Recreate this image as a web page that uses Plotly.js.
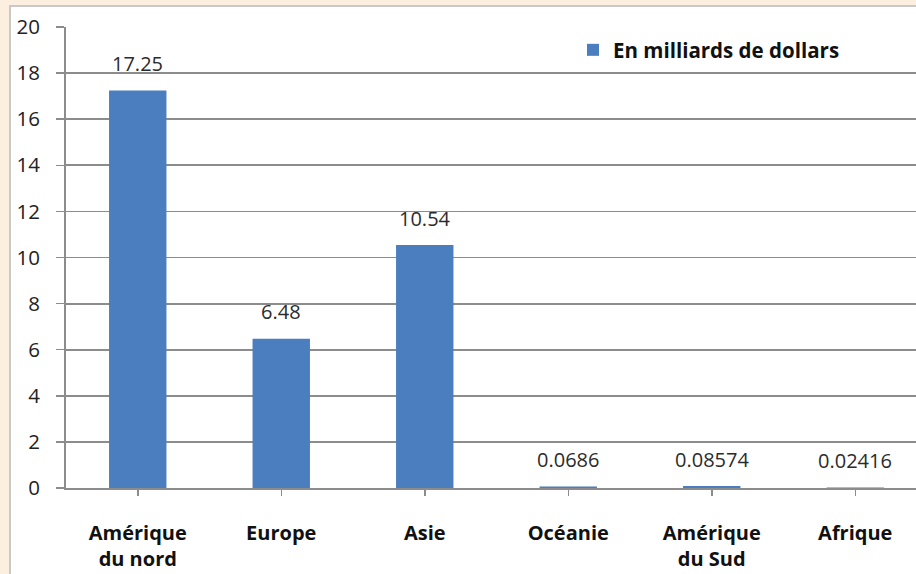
<!DOCTYPE html>
<html>
<head>
<meta charset="utf-8">
<script src="https://cdn.plot.ly/plotly-3.0.1.min.js"></script>
<style>html,body{margin:0;padding:0;background:#fcefe0;overflow:hidden;}#chart{width:916px;height:574px;}</style>
</head>
<body>
<div id="chart"></div>
<script>
const categories = ["<b>Amérique<br>du nord</b>", "<b>Europe</b>", "<b>Asie</b>", "<b>Océanie</b>", "<b>Amérique<br>du Sud</b>", "<b>Afrique</b>"];
const values = [17.25, 6.48, 10.54, 0.0686, 0.08574, 0.02416];
const valueLabels = ["17.25", "6.48", "10.54", "0.0686", "0.08574", "0.02416"];
const seriesName = "En milliards de dollars";
const yTicks = [0, 2, 4, 6, 8, 10, 12, 14, 16, 18, 20];

const W = 916, H = 574, L = 66, T = 27, B = 86;
const plotW = W - L, plotH = H - T - B;
const catW = 143.5;
const xMax = -0.5 + plotW / catW;
const px2x = p => (p - L) / plotW;
const px2y = p => (H - B - p) / plotH;

const font = "Open Sans, Liberation Sans, sans-serif";

const trace = {
  type: "bar",
  x: categories.map((c, i) => i),
  y: values,
  name: seriesName,
  marker: {color: "#4a7ebf"},
  hoverinfo: "none"
};

const annotations = values.map((v, i) => ({
  x: i, y: v, xref: "x", yref: "y",
  text: valueLabels[i], showarrow: false,
  yanchor: "middle", yshift: 27,
  font: {family: font, size: 20, color: "#2b2b2b"}
}));

const layout = {
  width: W, height: H,
  margin: {l: L, r: 0, t: T, b: B, pad: 0},
  paper_bgcolor: "#fcefe0",
  plot_bgcolor: "#ffffff",
  bargap: 0.6,
  showlegend: true,
  legend: {
    x: px2x(573), y: px2y(30), xanchor: "left", yanchor: "top",
    bgcolor: "rgba(0,0,0,0)",
    font: {family: font, size: 20.5, color: "#111111", weight: "bold"},
    itemwidth: 30
  },
  xaxis: {
    range: [-0.5, xMax],
    tickmode: "array",
    tickvals: categories.map((c, i) => i),
    ticktext: categories,
    tickson: "boundaries",
    ticks: "outside", ticklen: 6, tickcolor: "#8c8c8c", tickwidth: 1.5,
    ticklabelstandoff: 20,
    showgrid: false,
    showline: true, linecolor: "#8c8c8c", linewidth: 2,
    zeroline: false,
    tickfont: {family: font, size: 20, color: "#111111"},
    fixedrange: true
  },
  yaxis: {
    range: [0, 20],
    tickmode: "array",
    tickvals: yTicks,
    ticks: "outside", ticklen: 8, tickcolor: "#8c8c8c", tickwidth: 1.5,
    ticklabelstandoff: 12,
    showgrid: true, gridcolor: "#8c8c8c", gridwidth: 1.8,
    showline: true, linecolor: "#8c8c8c", linewidth: 2,
    zeroline: false,
    tickfont: {family: font, size: 20.5, color: "#222222"},
    fixedrange: true
  },
  shapes: [
    {type: "rect", xref: "paper", yref: "paper", layer: "below",
     x0: px2x(10), x1: px2x(W + 20), y0: px2y(6), y1: px2y(H + 20),
     fillcolor: "#ffffff", line: {color: "#c8c8c8", width: 2}}
  ],
  annotations: annotations
};

Plotly.newPlot("chart", [trace], layout, {displayModeBar: false, staticPlot: true});
</script>
</body>
</html>
